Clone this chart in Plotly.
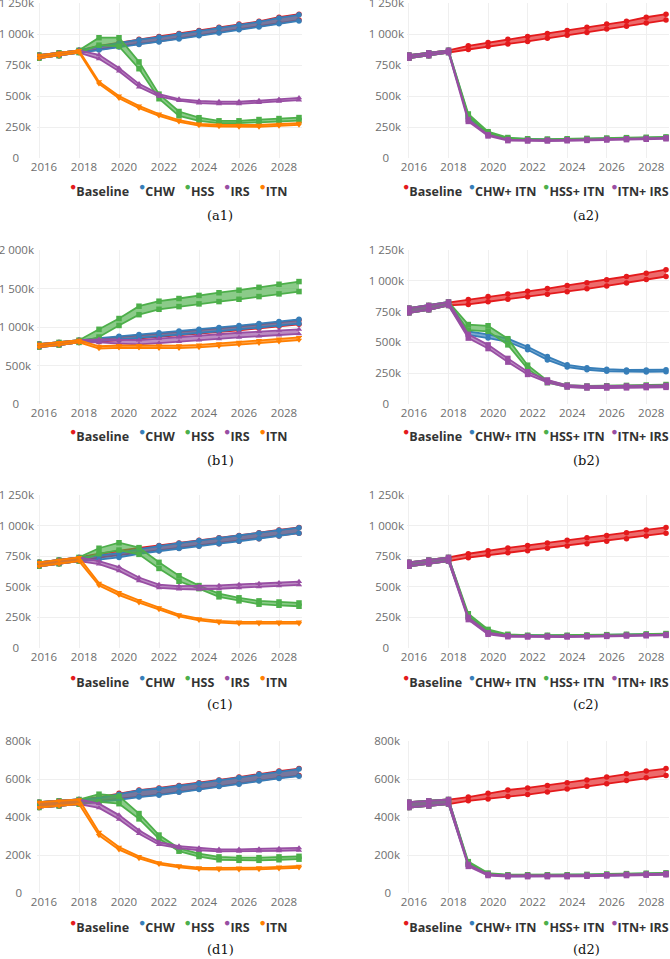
import plotly.graph_objects as go

years = [2016, 2017, 2018, 2019, 2020, 2021, 2022, 2023, 2024, 2025, 2026, 2027, 2028, 2029]
year_ticks = [2016, 2018, 2020, 2022, 2024, 2026, 2028]

# values in thousands of cases, lower / upper bound of each band
# --- row a ---
a_hist_lo = [805, 825, 850]
a_hist_hi = [830, 848, 868]
a1_base_lo = a_hist_lo + [875, 900, 920, 940, 965, 990, 1013, 1040, 1062, 1088, 1112]
a1_base_hi = a_hist_hi + [905, 932, 958, 980, 1005, 1028, 1055, 1080, 1102, 1135, 1160]
a1_chw_lo = a_hist_lo + [870, 895, 915, 936, 960, 985, 1008, 1034, 1056, 1082, 1105]
a1_chw_hi = a_hist_hi + [900, 928, 954, 975, 1000, 1024, 1050, 1075, 1098, 1130, 1155]
a1_hss_lo = a_hist_lo + [910, 900, 720, 478, 340, 300, 281, 281, 288, 296, 302]
a1_hss_hi = a_hist_hi + [970, 970, 775, 515, 375, 325, 300, 300, 310, 318, 326]
a1_irs_lo = a_hist_lo + [800, 700, 572, 497, 462, 443, 437, 437, 446, 456, 467]
a1_irs_hi = a_hist_hi + [832, 725, 598, 515, 475, 460, 455, 455, 463, 473, 485]
a1_itn_lo = a_hist_lo + [598, 482, 402, 340, 292, 262, 254, 251, 251, 259, 267]
a1_itn_hi = a_hist_hi + [615, 500, 420, 355, 306, 276, 268, 266, 266, 274, 282]
a2_chwitn_lo = a_hist_lo + [325, 195, 150, 145, 143, 145, 148, 151, 154, 157, 160]
a2_chwitn_hi = a_hist_hi + [340, 205, 158, 152, 150, 152, 155, 158, 161, 164, 167]
a2_hssitn_lo = a_hist_lo + [335, 200, 155, 148, 146, 148, 151, 154, 157, 160, 163]
a2_hssitn_hi = a_hist_hi + [355, 212, 165, 155, 153, 155, 158, 161, 164, 167, 170]
a2_itnirs_lo = a_hist_lo + [295, 178, 140, 137, 137, 139, 142, 145, 148, 151, 155]
a2_itnirs_hi = a_hist_hi + [310, 188, 148, 144, 144, 146, 149, 152, 155, 158, 162]

# --- row b ---
b_hist_lo = [740, 765, 800]
b_hist_hi = [778, 800, 828]
b1_base_lo = b_hist_lo + [808, 830, 850, 870, 890, 912, 935, 958, 983, 1010, 1035]
b1_base_hi = b_hist_hi + [848, 872, 893, 915, 937, 962, 985, 1008, 1035, 1062, 1090]
b1_chw_lo = b_hist_lo + [815, 838, 858, 878, 900, 922, 945, 968, 993, 1020, 1045]
b1_chw_hi = b_hist_hi + [855, 880, 902, 925, 947, 972, 995, 1018, 1045, 1072, 1100]
b1_hss_lo = b_hist_lo + [870, 1020, 1160, 1230, 1265, 1300, 1330, 1360, 1395, 1430, 1460]
b1_hss_hi = b_hist_hi + [970, 1110, 1270, 1335, 1370, 1410, 1445, 1478, 1515, 1555, 1590]
b1_irs_lo = b_hist_lo + [800, 785, 775, 790, 810, 830, 845, 865, 880, 895, 910]
b1_irs_hi = b_hist_hi + [840, 835, 830, 850, 870, 890, 905, 925, 940, 955, 970]
b1_itn_lo = b_hist_lo + [720, 730, 730, 725, 725, 735, 750, 770, 790, 810, 830]
b1_itn_hi = b_hist_hi + [750, 760, 760, 758, 758, 768, 785, 805, 825, 845, 865]
b2_chwitn_lo = b_hist_lo + [560, 535, 505, 440, 358, 300, 278, 265, 260, 260, 262]
b2_chwitn_hi = b_hist_hi + [590, 565, 530, 465, 385, 318, 295, 282, 276, 276, 278]
b2_hssitn_lo = b_hist_lo + [600, 590, 480, 285, 173, 140, 133, 135, 137, 140, 143]
b2_hssitn_hi = b_hist_hi + [645, 635, 530, 315, 190, 154, 146, 148, 151, 154, 158]
b2_itnirs_lo = b_hist_lo + [535, 450, 340, 240, 175, 138, 130, 130, 131, 133, 135]
b2_itnirs_hi = b_hist_hi + [565, 480, 370, 262, 195, 152, 145, 145, 146, 148, 150]

# --- row c ---
c_hist_lo = [668, 688, 710]
c_hist_hi = [700, 718, 740]
c1_base_lo = c_hist_lo + [738, 758, 778, 795, 814, 833, 852, 872, 893, 915, 938]
c1_base_hi = c_hist_hi + [770, 795, 818, 838, 858, 880, 900, 920, 942, 965, 985]
c1_chw_lo = c_hist_lo + [722, 740, 770, 792, 812, 832, 852, 872, 893, 915, 938]
c1_chw_hi = c_hist_hi + [755, 775, 808, 835, 856, 878, 898, 918, 940, 963, 983]
c1_hss_lo = c_hist_lo + [770, 800, 765, 650, 545, 485, 418, 385, 358, 349, 341]
c1_hss_hi = c_hist_hi + [815, 860, 820, 700, 590, 510, 445, 410, 385, 376, 368]
c1_irs_lo = c_hist_lo + [685, 630, 549, 491, 482, 478, 484, 492, 499, 507, 516]
c1_irs_hi = c_hist_hi + [710, 662, 576, 518, 505, 505, 511, 519, 526, 534, 543]
c1_itn_lo = c_hist_lo + [510, 432, 370, 314, 258, 226, 207, 199, 199, 199, 199]
c1_itn_hi = c_hist_hi + [530, 455, 390, 330, 273, 240, 221, 213, 213, 213, 213]
c2_chwitn_lo = c_hist_lo + [245, 130, 100, 95, 95, 95, 97, 100, 103, 105, 108]
c2_chwitn_hi = c_hist_hi + [262, 142, 108, 102, 102, 102, 104, 107, 110, 112, 115]
c2_hssitn_lo = c_hist_lo + [258, 138, 103, 97, 97, 97, 99, 102, 105, 108, 111]
c2_hssitn_hi = c_hist_hi + [280, 152, 112, 104, 104, 104, 106, 109, 112, 115, 118]
c2_itnirs_lo = c_hist_lo + [232, 112, 92, 90, 90, 90, 92, 95, 98, 100, 103]
c2_itnirs_hi = c_hist_hi + [250, 125, 100, 97, 97, 97, 99, 102, 105, 107, 110]

# --- row d ---
d_hist_lo = [450, 458, 468]
d_hist_hi = [478, 485, 492]
d1_base_lo = d_hist_lo + [485, 495, 508, 518, 532, 547, 562, 575, 592, 606, 618]
d1_base_hi = d_hist_hi + [505, 525, 542, 553, 566, 580, 595, 610, 627, 642, 655]
d1_chw_lo = d_hist_lo + [480, 490, 505, 515, 530, 545, 560, 573, 590, 603, 615]
d1_chw_hi = d_hist_hi + [500, 520, 540, 550, 563, 578, 593, 608, 625, 640, 652]
d1_hss_lo = d_hist_lo + [480, 470, 390, 285, 220, 192, 175, 172, 172, 175, 178]
d1_hss_hi = d_hist_hi + [520, 510, 418, 305, 235, 207, 190, 186, 186, 190, 193]
d1_irs_lo = d_hist_lo + [448, 388, 312, 254, 236, 225, 219, 219, 220, 222, 225]
d1_irs_hi = d_hist_hi + [470, 410, 330, 268, 247, 237, 230, 230, 232, 234, 237]
d1_itn_lo = d_hist_lo + [303, 228, 182, 151, 135, 125, 123, 123, 124, 128, 133]
d1_itn_hi = d_hist_hi + [320, 242, 193, 160, 144, 133, 132, 132, 133, 137, 142]
d2_chwitn_lo = d_hist_lo + [148, 95, 88, 88, 88, 88, 90, 92, 94, 96, 98]
d2_chwitn_hi = d_hist_hi + [158, 102, 94, 94, 94, 94, 96, 98, 100, 102, 104]
d2_hssitn_lo = d_hist_lo + [152, 98, 90, 90, 90, 90, 92, 94, 96, 98, 100]
d2_hssitn_hi = d_hist_hi + [165, 105, 96, 96, 96, 96, 98, 100, 102, 104, 106]
d2_itnirs_lo = d_hist_lo + [140, 92, 86, 86, 86, 86, 88, 90, 92, 94, 96]
d2_itnirs_hi = d_hist_hi + [150, 98, 92, 92, 92, 92, 94, 96, 98, 100, 102]

# y axis ticks (labels are centred in the original, so short ones get trailing no-break spaces)
NB = "\u00a0"
ticks_1250 = [0, 250, 500, 750, 1000, 1250]
labels_1250 = ["0" + NB * 5, "250k" + NB, "500k" + NB, "750k" + NB, "1 000k", "1 250k"]
ticks_2000 = [0, 500, 1000, 1500, 2000]
labels_2000 = ["0" + NB * 5, "500k" + NB, "1 000k", "1 500k", "2 000k"]
ticks_800 = [0, 200, 400, 600, 800]
labels_800 = ["0" + NB * 3, "200k", "400k", "600k", "800k"]

RED, BLUE, GREEN, PURPLE, ORANGE = "#e41a1c", "#377eb8", "#4daf4a", "#984ea3", "#ff7f00"


def rgba(hex_c, a=0.65):
    h = hex_c.lstrip("#")
    return "rgba(%d,%d,%d,%s)" % (int(h[0:2], 16), int(h[2:4], 16), int(h[4:6], 16), a)


def single(base, chw, hss, irs, itn):
    return [("Baseline", base, RED, "circle"), ("CHW", chw, BLUE, "circle"),
            ("HSS", hss, GREEN, "square"), ("IRS", irs, PURPLE, "triangle-up"),
            ("ITN", itn, ORANGE, "triangle-down")]


def combo(base, chwitn, hssitn, itnirs):
    return [("Baseline", base, RED, "circle"), ("CHW+ ITN", chwitn, BLUE, "circle"),
            ("HSS+ ITN", hssitn, GREEN, "square"), ("ITN+ IRS", itnirs, PURPLE, "square")]


# (caption, column, row, y range top, tick values, tick labels, label standoff, series)
panels = [
    ("(a1)", 0, 0, 1250, ticks_1250, labels_1250, 2,
     single((a1_base_lo, a1_base_hi), (a1_chw_lo, a1_chw_hi), (a1_hss_lo, a1_hss_hi),
            (a1_irs_lo, a1_irs_hi), (a1_itn_lo, a1_itn_hi))),
    ("(a2)", 1, 0, 1250, ticks_1250, labels_1250, 2,
     combo((a1_base_lo, a1_base_hi), (a2_chwitn_lo, a2_chwitn_hi), (a2_hssitn_lo, a2_hssitn_hi),
           (a2_itnirs_lo, a2_itnirs_hi))),
    ("(b1)", 0, 1, 2000, ticks_2000, labels_2000, 2,
     single((b1_base_lo, b1_base_hi), (b1_chw_lo, b1_chw_hi), (b1_hss_lo, b1_hss_hi),
            (b1_irs_lo, b1_irs_hi), (b1_itn_lo, b1_itn_hi))),
    ("(b2)", 1, 1, 1250, ticks_1250, labels_1250, 2,
     combo((b1_base_lo, b1_base_hi), (b2_chwitn_lo, b2_chwitn_hi), (b2_hssitn_lo, b2_hssitn_hi),
           (b2_itnirs_lo, b2_itnirs_hi))),
    ("(c1)", 0, 2, 1250, ticks_1250, labels_1250, 2,
     single((c1_base_lo, c1_base_hi), (c1_chw_lo, c1_chw_hi), (c1_hss_lo, c1_hss_hi),
            (c1_irs_lo, c1_irs_hi), (c1_itn_lo, c1_itn_hi))),
    ("(c2)", 1, 2, 1250, ticks_1250, labels_1250, 2,
     combo((c1_base_lo, c1_base_hi), (c2_chwitn_lo, c2_chwitn_hi), (c2_hssitn_lo, c2_hssitn_hi),
           (c2_itnirs_lo, c2_itnirs_hi))),
    ("(d1)", 0, 3, 800, ticks_800, labels_800, 5,
     single((d1_base_lo, d1_base_hi), (d1_chw_lo, d1_chw_hi), (d1_hss_lo, d1_hss_hi),
            (d1_irs_lo, d1_irs_hi), (d1_itn_lo, d1_itn_hi))),
    ("(d2)", 1, 3, 800, ticks_800, labels_800, 6,
     combo((d1_base_lo, d1_base_hi), (d2_chwitn_lo, d2_chwitn_hi), (d2_hssitn_lo, d2_hssitn_hi),
           (d2_itnirs_lo, d2_itnirs_hi))),
]

W, H = 670, 959
col_x = [(37, 302), (407, 669)]          # plot area left/right in px
row_y = [(3, 158), (250, 404), (495, 648), (741, 893)]  # plot area top/bottom in px
legend_cx = [178, 536]
caption_cx = [220, 586]
legend_y = [190, 434, 680, 925]
caption_y = [215, 460, 704, 949]
legend_gap = ["   ", "  "]
tick_font = dict(family="Open Sans", size=11.5, color="#6e6e6e")

fig = go.Figure()
layout = {}
annotations = []

for i, (cap, col, row, ytop, tv, tt, standoff, series) in enumerate(panels):
    n = i + 1
    xa, ya = ("x", "y") if n == 1 else ("x%d" % n, "y%d" % n)
    for name, (lo, hi), color, sym in series:
        fig.add_trace(go.Scatter(
            x=years, y=lo, xaxis=xa, yaxis=ya, mode="lines+markers",
            line=dict(color=color, width=1.8), marker=dict(symbol=sym, size=5.5, color=color),
            showlegend=False, hoverinfo="skip"))
        fig.add_trace(go.Scatter(
            x=years, y=hi, xaxis=xa, yaxis=ya, mode="lines+markers", fill="tonexty",
            fillcolor=rgba(color), line=dict(color=color, width=1.8),
            marker=dict(symbol=sym, size=5.5, color=color),
            showlegend=False, hoverinfo="skip"))

    x0, x1 = col_x[col]
    y0, y1 = row_y[row]
    layout["xaxis" if n == 1 else "xaxis%d" % n] = dict(
        domain=[x0 / W, x1 / W], anchor=ya, range=[2015.9, 2029.15], automargin=False,
        tickvals=year_ticks, showgrid=True, gridcolor="#efefef", zeroline=False,
        showline=False, ticks="", ticklabelshift=5, ticklabelstandoff=0,
        ticklabeloverflow="allow", tickfont=tick_font)
    layout["yaxis" if n == 1 else "yaxis%d" % n] = dict(
        domain=[1 - y1 / H, 1 - y0 / H], anchor=xa, range=[0, ytop], automargin=False,
        tickvals=tv, ticktext=tt, showgrid=True, gridcolor="#efefef", zeroline=False,
        showline=False, ticks="", ticklabeloverflow="allow", ticklabelstandoff=standoff,
        tickfont=tick_font)

    parts = ["<span style='color:%s;font-size:15px'><sup>●</sup></span><b>%s</b>" % (c, nm)
             for nm, _, c, _ in series]
    annotations.append(dict(
        text=legend_gap[col].join(parts), x=legend_cx[col] / W, y=1 - legend_y[row] / H,
        xref="paper", yref="paper", showarrow=False, xanchor="center", yanchor="middle",
        font=dict(family="Open Sans", size=12.5, color="#333333")))
    annotations.append(dict(
        text=cap, x=caption_cx[col] / W, y=1 - caption_y[row] / H,
        xref="paper", yref="paper", showarrow=False, xanchor="center", yanchor="middle",
        font=dict(family="DejaVu Serif", size=13, color="#111111")))

fig.update_layout(
    width=W, height=H, margin=dict(l=0, r=0, t=0, b=0, autoexpand=False),
    paper_bgcolor="white", plot_bgcolor="white",
    annotations=annotations, **layout)

# the page body has a default 8px margin; drop it so the figure fills the window
fig.write_html("out.html", config={"displayModeBar": False},
               post_script="document.body.style.margin='0';document.body.style.overflow='hidden';")
